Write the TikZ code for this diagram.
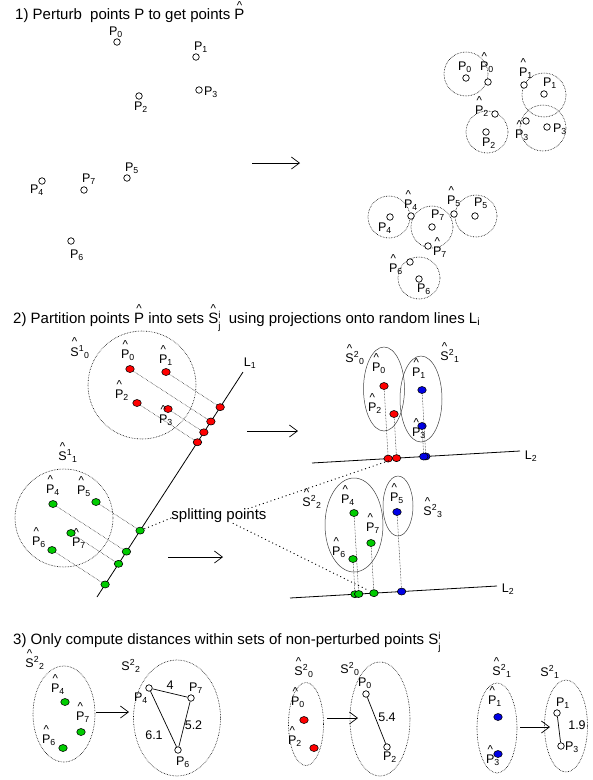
\documentclass[tikz,border=0pt]{standalone}
\usepackage{fontspec}
\setmainfont{Liberation Sans}
\usetikzlibrary{arrows.meta, calc, shapes.geometric}

\definecolor{ptred}{RGB}{255,0,0}
\definecolor{ptgreen}{RGB}{0,204,0}
\definecolor{ptblue}{RGB}{0,0,230}

\newcommand{\hatted}[1]{\ooalign{#1\cr\hidewidth\smash{\raisebox{10.2pt}{\fontsize{11.5}{11.5}\selectfont\textasciicircum}}\hidewidth\cr}}
\newcommand{\stackij}[2]{\rlap{\raisebox{0.33em}{\fontsize{10}{10}\selectfont #1}}\raisebox{-0.45em}{\fontsize{10}{10}\selectfont #2}}
\newcommand{\ptn}[1]{P\textsubscript{#1}}
\newcommand{\pth}[1]{\hatted{P}\textsubscript{#1}}
\newcommand{\setn}[2]{S\textsuperscript{#1}\textsubscript{#2}}
\newcommand{\seth}[2]{\hatted{S}\textsuperscript{#1}\textsubscript{#2}}

\tikzset{
  lbl/.style={inner sep=0pt, font=\fontsize{12.5}{14}\selectfont},
  headline/.style={inner sep=0pt, anchor=base west, font=\fontsize{15}{18}\selectfont},
  openpt/.style={circle, draw, fill=white, inner sep=0pt, minimum size=6.5pt, line width=0.7pt},
  redpt/.style={ellipse, draw, fill=ptred, inner sep=0pt, minimum width=8.5pt, minimum height=7pt, line width=0.6pt},
  greenpt/.style={redpt, fill=ptgreen},
  bluept/.style={redpt, fill=ptblue},
  zone/.style={densely dotted, line width=0.6pt},
  setring/.style={line width=0.5pt, black!75},
  proj/.style={densely dotted, line width=0.5pt},
  rline/.style={line width=0.8pt},
  splitline/.style={dash pattern=on 1pt off 3pt, line width=0.9pt},
  arr/.style={line width=0.7pt, -{Straight Barb[length=8pt, width=12pt]}},
  distline/.style={line width=0.7pt}
}

\begin{document}
\begin{tikzpicture}[x=1pt, y=-1pt]
\useasboundingbox (0,0) rectangle (593,780);

% ---------- 1) perturb ----------
\node[headline] (t1) at (15,19.5) {1) Perturb\ \ points P to get points \hatted{P}};
\node[openpt] (p0) at (117,42) {};
\node[openpt] (p1) at (196,57) {};
\node[openpt] (p2) at (139,96) {};
\node[openpt] (p3) at (199,90) {};
\node[openpt] (p4) at (42,181) {};
\node[openpt] (p5) at (127,178) {};
\node[openpt] (p6) at (71,241) {};
\node[openpt] (p7) at (84,190) {};
\node[lbl] (p0l) at (116,32) {\ptn{0}};
\node[lbl] (p1l) at (201,47) {\ptn{1}};
\node[lbl] (p2l) at (141,107) {\ptn{2}};
\node[lbl] (p3l) at (211,92) {\ptn{3}};
\node[lbl] (p4l) at (37,190) {\ptn{4}};
\node[lbl] (p5l) at (132,168) {\ptn{5}};
\node[lbl] (p6l) at (77,255) {\ptn{6}};
\node[lbl] (p7l) at (89,179) {\ptn{7}};

\coordinate (ar1s) at (252,163);
\coordinate (ar1e) at (300,163);
\draw[arr] (ar1s) -- (ar1e);

\draw[zone] (466,74) circle [radius=22pt];
\draw[zone] (544,95) circle [radius=22pt];
\draw[zone] (487,132) circle [radius=21pt];
\draw[zone] (543,128) circle [radius=23pt];
\draw[zone] (389,217) circle [radius=21pt];
\draw[zone] (432,227) circle [radius=21pt];
\draw[zone] (476,216) circle [radius=21pt];
\draw[zone] (419,278) circle [radius=21pt];
\node[openpt] (q0) at (466,78) {};
\node[openpt] (q1) at (544,94) {};
\node[openpt] (q2) at (486,132) {};
\node[openpt] (q3) at (547,127) {};
\node[openpt] (q4) at (390,217) {};
\node[openpt] (q5) at (475,216) {};
\node[openpt] (q6) at (419,279) {};
\node[openpt] (q7) at (432,227) {};
\node[openpt] (h0) at (488,82) {};
\node[openpt] (h1) at (524,85) {};
\node[openpt] (h2) at (495,114) {};
\node[openpt] (h3) at (526,121) {};
\node[openpt] (h4) at (411,216) {};
\node[openpt] (h5) at (454,214) {};
\node[openpt] (h6) at (410,262) {};
\node[openpt] (h7) at (428,246) {};
\node[lbl] (q0l) at (465,67) {\ptn{0}};
\node[lbl] (q1l) at (550,83) {\ptn{1}};
\node[lbl] (q2l) at (489,143) {\ptn{2}};
\node[lbl] (q3l) at (560,129) {\ptn{3}};
\node[lbl] (q4l) at (385,228) {\ptn{4}};
\node[lbl] (q5l) at (481,203) {\ptn{5}};
\node[lbl] (q6l) at (424,289) {\ptn{6}};
\node[lbl] (q7l) at (438,215) {\ptn{7}};
\node[lbl] (h0l) at (487,67) {\pth{0}};
\node[lbl] (h1l) at (526,73) {\pth{1}};
\node[lbl] (h2l) at (482,111) {\pth{2}};
\node[lbl] (h3l) at (522,135) {\pth{3}};
\node[lbl] (h4l) at (411,205) {\pth{4}};
\node[lbl] (h5l) at (454,201) {\pth{5}};
\node[lbl] (h6l) at (396,269) {\pth{6}};
\node[lbl] (h7l) at (440,252) {\pth{7}};

% ---------- 2) partition ----------
\node[headline] (t2) at (13,323) {2) Partition points \hatted{P} into sets \hatted{S}\stackij{i}{j}\ \ using projections onto random lines L\textsubscript{i}};

\coordinate (L1a) at (243,372);
\coordinate (L1b) at (97,597);
\draw[rline] (L1a) -- (L1b);
\node[lbl] (L1l) at (250,363) {L\textsubscript{1}};

\draw[zone] (142,385) circle [radius=54pt];
\node[lbl] (s10l) at (80,352) {\seth{1}{0}};
\node[redpt] (a0) at (130,369) {};
\node[redpt] (a1) at (166,372) {};
\node[redpt] (a2) at (137,403) {};
\node[redpt] (a3) at (168,409) {};
\node[lbl] (a0l) at (128,355) {\pth{0}};
\node[lbl] (a1l) at (166,360) {\pth{1}};
\node[lbl] (a2l) at (122,395) {\pth{2}};
\node[lbl] (a3l) at (166,420) {\pth{3}};
\foreach \n in {0,1,2,3} {
  \coordinate (af\n) at ($(L1a)!(a\n)!(L1b)$);
  \draw[proj] (a\n) -- (af\n);
  \node[redpt] (ap\n) at (af\n) {};
}

\draw[zone] (64,518) circle [radius=49pt];
\node[lbl] (s11l) at (68,456) {\seth{1}{1}};
\node[greenpt] (g4) at (53,504) {};
\node[greenpt] (g5) at (96,502) {};
\node[greenpt] (g6) at (52,550) {};
\node[greenpt] (g7) at (71,533) {};
\node[lbl] (g4l) at (53,490) {\pth{4}};
\node[lbl] (g5l) at (84,491) {\pth{5}};
\node[lbl] (g6l) at (39,542) {\pth{6}};
\node[lbl] (g7l) at (79,543) {\pth{7}};
\foreach \n in {4,5,6,7} {
  \coordinate (gf\n) at ($(L1a)!(g\n)!(L1b)$);
  \draw[proj] (g\n) -- (gf\n);
  \node[greenpt] (gp\n) at (gf\n) {};
}

\coordinate (ar2s) at (247,431);
\coordinate (ar2e) at (298,431);
\draw[arr] (ar2s) -- (ar2e);
\coordinate (ar3s) at (168,557);
\coordinate (ar3e) at (223,557);
\draw[arr] (ar3s) -- (ar3e);

% upper split along L2
\coordinate (L2a) at (312,463);
\coordinate (L2b) at (520,451);
\draw[rline] (L2a) -- (L2b);
\node[lbl] (L2l) at (531,456) {L\textsubscript{2}};
\draw[setring] (384,389) ellipse [x radius=20.5pt, y radius=42pt];
\draw[setring] (421,399) ellipse [x radius=21pt, y radius=43pt];
\node[lbl] (s20l) at (355,358) {\seth{2}{0}};
\node[lbl] (s21l) at (450,356) {\seth{2}{1}};
\node[redpt] (b0) at (384,386) {};
\node[redpt] (b2) at (394,414) {};
\node[bluept] (b1) at (422,390) {};
\node[bluept] (b3) at (422,426) {};
\node[lbl] (b0l) at (379,368) {\pth{0}};
\node[lbl] (b2l) at (375,408) {\pth{2}};
\node[lbl] (b1l) at (419,373) {\pth{1}};
\node[lbl] (b3l) at (419,433) {\pth{3}};
\foreach \n/\kind in {0/redpt, 2/redpt, 1/bluept, 3/bluept} {
  \coordinate (bf\n) at ($(L2a)!(b\n)!(L2b)$);
  \draw[proj] (b\n) -- (bf\n);
  \node[\kind] (bp\n) at (bf\n) {};
}

% lower split along L2
\coordinate (L3a) at (290,598);
\coordinate (L3b) at (497,586);
\draw[rline] (L3a) -- (L3b);
\node[lbl] (L3l) at (508,589) {L\textsubscript{2}};
\draw[setring] (354,525) ellipse [x radius=29pt, y radius=47pt];
\draw[setring] (398,506) ellipse [x radius=15pt, y radius=30pt];
\node[lbl] (s22l) at (312,502) {\seth{2}{2}};
\node[lbl] (s23l) at (433,511) {\seth{2}{3}};
\node[greenpt] (c4) at (354,513) {};
\node[greenpt] (c7) at (371,543) {};
\node[greenpt] (c6) at (353,559) {};
\node[bluept] (c5) at (397,512) {};
\node[lbl] (c4l) at (348,500) {\pth{4}};
\node[lbl] (c7l) at (373,528) {\pth{7}};
\node[lbl] (c6l) at (339,552) {\pth{6}};
\node[lbl] (c5l) at (397,498) {\pth{5}};
\foreach \n/\kind in {6/greenpt, 4/greenpt, 7/greenpt, 5/bluept} {
  \coordinate (cf\n) at ($(L3a)!(c\n)!(L3b)$);
  \draw[proj] (c\n) -- (cf\n);
  \node[\kind] (cp\n) at (cf\n) {};
}

\node[headline, anchor=center] (splitlbl) at (219,516) {splitting points};
\draw[splitline] ([yshift=-2pt]splitlbl.west) -- (gp5);
\draw[splitline] ([xshift=-19pt]splitlbl.north east) -- (bp2);
\draw[splitline, shorten >=3pt] ([xshift=-34pt]splitlbl.south east) -- (cp7);

% ---------- 3) distances ----------
\node[headline] (t3) at (13,644) {3) Only compute distances within sets of non-perturbed points S\stackij{i}{j}};

\draw[zone] (64,714) ellipse [x radius=31pt, y radius=48pt];
\node[lbl] (e22l) at (35,663) {\seth{2}{2}};
\node[greenpt] (e4) at (65,702) {};
\node[greenpt] (e7) at (81,732) {};
\node[greenpt] (e6) at (63,748) {};
\node[lbl] (e4l) at (58,689) {\pth{4}};
\node[lbl] (e7l) at (83,717) {\pth{7}};
\node[lbl] (e6l) at (49,740) {\pth{6}};
\coordinate (ar4s) at (96,712);
\coordinate (ar4e) at (129,712);
\draw[arr] (ar4s) -- (ar4e);
\draw[zone] (177,718) ellipse [x radius=43.5pt, y radius=58pt];
\node[lbl] (n22l) at (131,666) {\setn{2}{2}};
\node[openpt] (s4) at (149,688) {};
\node[openpt] (s7) at (191,698) {};
\node[openpt] (s6) at (178,750) {};
\draw[distline] (s4) -- (s7);
\draw[distline] (s7) -- (s6);
\draw[distline] (s6) -- (s4);
\node[lbl] (s4l) at (141,698) {\ptn{4}};
\node[lbl] (s7l) at (196,688) {\ptn{7}};
\node[lbl] (s6l) at (183,762) {\ptn{6}};
\node[lbl] (d47) at (170,685) {4};
\node[lbl] (d76) at (193.5,725) {5.2};
\node[lbl] (d46) at (154,735) {6.1};

\draw[zone] (306,724) ellipse [x radius=17.5pt, y radius=41.5pt];
\node[lbl] (e20l) at (304,671) {\seth{2}{0}};
\node[redpt] (f0) at (304,720) {};
\node[redpt] (f2) at (314,748) {};
\node[lbl] (f0l) at (298,702) {\pth{0}};
\node[lbl] (f2l) at (295,741) {\pth{2}};
\coordinate (ar5s) at (327,718);
\coordinate (ar5e) at (358,718);
\draw[arr] (ar5s) -- (ar5e);
\draw[zone] (380,719) ellipse [x radius=30pt, y radius=57pt];
\node[lbl] (n20l) at (350,669) {\setn{2}{0}};
\node[openpt] (t0) at (366,694) {};
\node[openpt] (t2) at (387,747) {};
\draw[distline] (t0) -- (t2);
\node[lbl] (t0l) at (365,683) {\ptn{0}};
\node[lbl] (t2l) at (390,757) {\ptn{2}};
\node[lbl] (d02) at (387,717) {5.4};

\draw[zone] (497,728) ellipse [x radius=20pt, y radius=45pt];
\node[lbl] (e21l) at (502,671) {\seth{2}{1}};
\node[bluept] (k1) at (498,717) {};
\node[bluept] (k3) at (498,754) {};
\node[lbl] (k1l) at (495,701) {\pth{1}};
\node[lbl] (k3l) at (493,760) {\pth{3}};
\coordinate (ar6s) at (520,727);
\coordinate (ar6e) at (550,727);
\draw[arr] (ar6s) -- (ar6e);
\draw[zone] (566,726) ellipse [x radius=21.5pt, y radius=46pt];
\node[lbl] (n21l) at (550,672) {\setn{2}{1}};
\node[openpt] (u1) at (557,713) {};
\node[openpt] (u3) at (561,746) {};
\draw[distline] (u1) -- (u3);
\node[lbl] (u1l) at (563,703) {\ptn{1}};
\node[lbl] (u3l) at (572,747) {\ptn{3}};
\node[lbl] (d13) at (577,725) {1.9};
\end{tikzpicture}
\end{document}
